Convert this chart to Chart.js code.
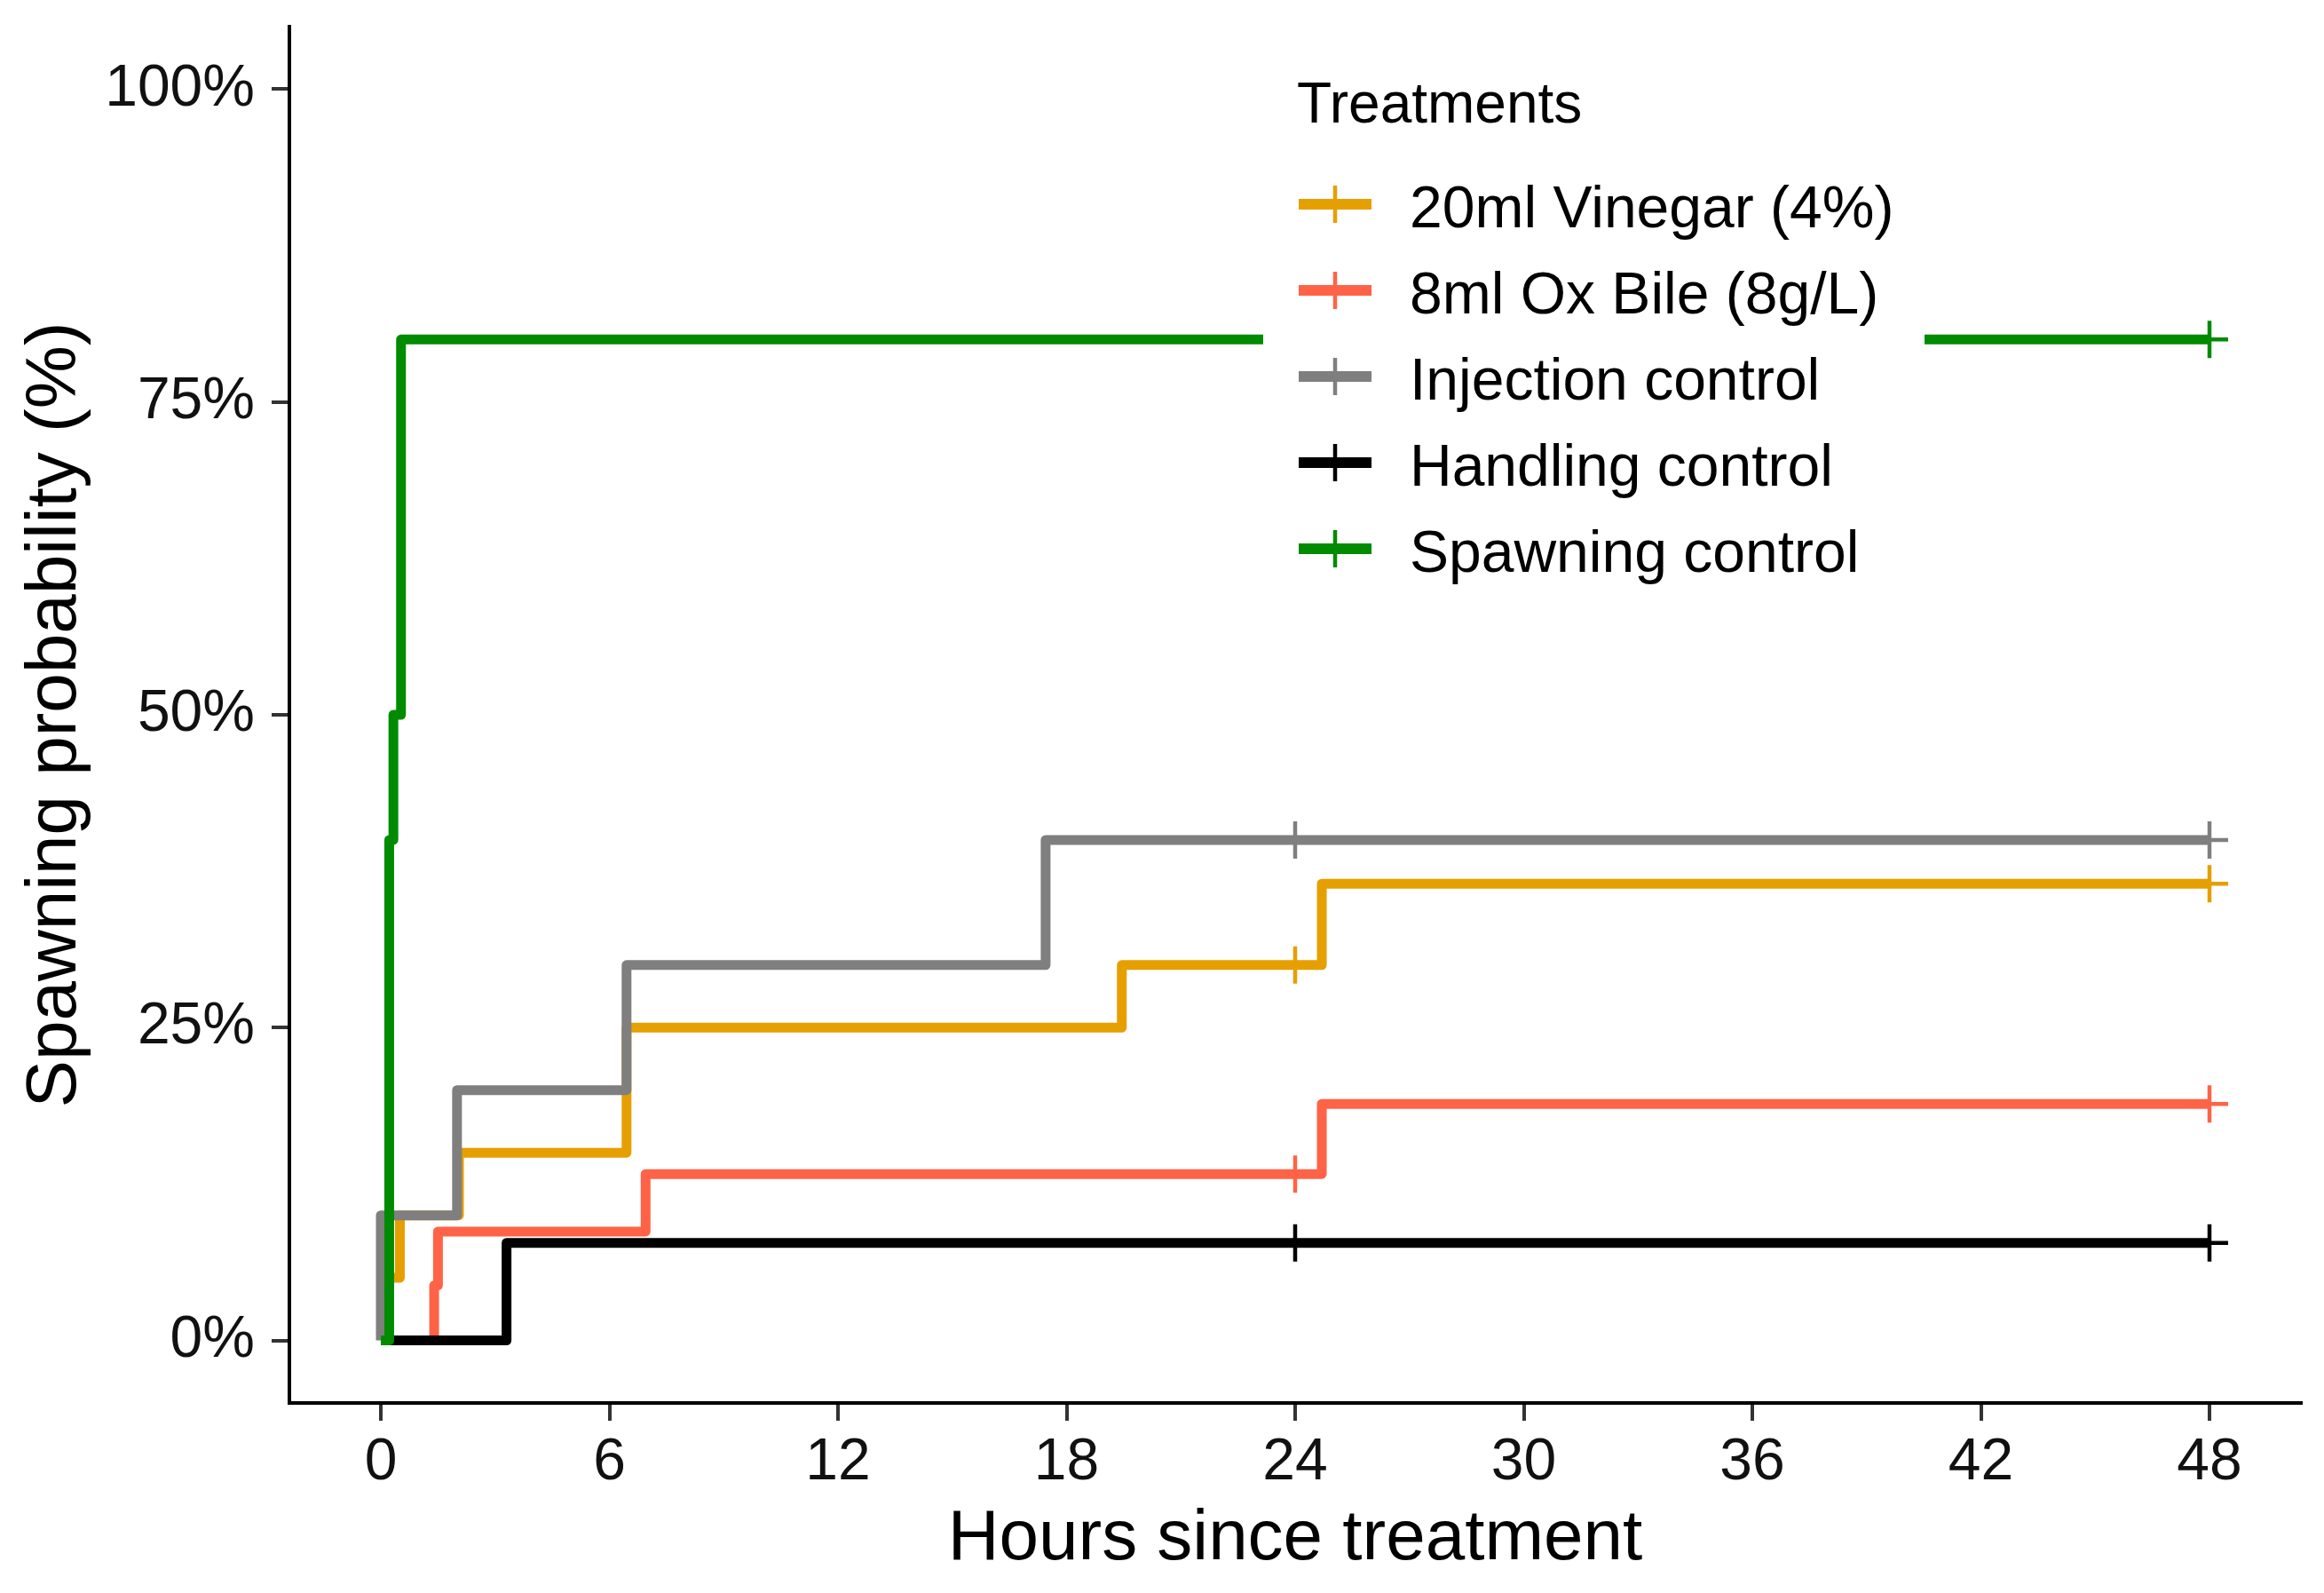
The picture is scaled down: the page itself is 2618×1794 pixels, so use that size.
<!DOCTYPE html>
<html>
<head>
<meta charset="utf-8">
<script src="https://cdn.jsdelivr.net/npm/chart.js@4.4.1/dist/chart.umd.min.js"></script>
<style>
  html, body { margin: 0; padding: 0; background: #fff; }
  #wrap { width: 2618px; height: 1794px; }
</style>
</head>
<body>
<div id="wrap"><canvas id="km" width="2618" height="1794"></canvas></div>
<script>
// series (legend order)
const seriesNames = ['20ml Vinegar (4%)', '8ml Ox Bile (8g/L)', 'Injection control', 'Handling control', 'Spawning control'];
const seriesColors = ['#E69F00', '#FF6347', '#7F7F7F', '#000000', '#008B00'];
const legendTitle = 'Treatments';

// step times (hours) and spawning probability after each step
const vinegarTimes = [0, 0.2, 0.5, 2.05, 6.45, 19.45, 24.7, 48];
const vinegarProb = [0, 0.05, 0.10, 0.15, 0.25, 0.30, 0.365, 0.365];
const oxBileTimes = [0, 1.4, 1.5, 6.95, 24.7, 48];
const oxBileProb = [0, 0.044, 0.087, 0.133, 0.189, 0.189];
const injectionTimes = [0, 0, 2.0, 6.45, 17.45, 48];
const injectionProb = [0, 0.10, 0.20, 0.30, 0.40, 0.40];
const handlingTimes = [0, 3.3, 48];
const handlingProb = [0, 0.078, 0.078];
const spawningTimes = [0, 0.22, 0.33, 0.53, 48];
const spawningProb = [0, 0.40, 0.50, 0.80, 0.80];

// censoring marks (hours)
const censorTimes = [[24, 48], [24, 48], [24, 48], [24, 48], [24, 48]];

const xTicks = [0, 6, 12, 18, 24, 30, 36, 42, 48];
const yTicks = [0, 0.25, 0.5, 0.75, 1];
const yTickLabels = ['0%', '25%', '50%', '75%', '100%'];

const allTimes = [vinegarTimes, oxBileTimes, injectionTimes, handlingTimes, spawningTimes];
const allProbs = [vinegarProb, oxBileProb, injectionProb, handlingProb, spawningProb];
// draw order: green on top, then black, gray, red, orange
const drawOrder = [10, 8, 6, 4, 2];

function valueAt(times, probs, t) {
    var v = probs[0];
    for (var i = 0; i < times.length; i++) {
        if (times[i] <= t) v = probs[i];
    }
    return v;
}

const datasets = [];
for (let i = 0; i < seriesNames.length; i++) {
    datasets.push({
        label: seriesNames[i],
        data: allTimes[i].map((t, k) => ({ x: t, y: allProbs[i][k] })),
        borderColor: seriesColors[i],
        borderWidth: 11,
        borderJoinStyle: 'round',
        stepped: 'before',
        pointRadius: 0,
        fill: false,
        order: drawOrder[i]
    });
    datasets.push({
        label: seriesNames[i] + ' censored',
        data: censorTimes[i].map(t => ({ x: t, y: valueAt(allTimes[i], allProbs[i], t) })),
        showLine: false,
        pointStyle: 'cross',
        pointRadius: 21,
        pointBorderWidth: 4.5,
        pointBorderColor: seriesColors[i],
        order: drawOrder[i] - 1
    });
}

const legendBox = {
    id: 'legendBox',
    afterDatasetsDraw(chart) {
        const c = chart.ctx;
        c.save();
        c.fillStyle = '#ffffff';
        c.fillRect(1423, 40, 745, 625);
        c.fillStyle = '#000';
        c.textBaseline = 'alphabetic';
        c.font = '64px "Liberation Sans", Arial, sans-serif';
        c.fillText(legendTitle, 1461, 138);
        c.font = '66px "Liberation Sans", Arial, sans-serif';
        for (let i = 0; i < seriesNames.length; i++) {
            const y = 230 + i * 97;
            c.strokeStyle = seriesColors[i];
            c.lineWidth = 12;
            c.beginPath(); c.moveTo(1463, y); c.lineTo(1545, y); c.stroke();
            c.lineWidth = 4.5;
            c.beginPath(); c.moveTo(1504, y - 21); c.lineTo(1504, y + 21); c.stroke();
            c.fillStyle = '#000';
            c.fillText(seriesNames[i], 1588, y + 26);
        }
        c.restore();
    }
};

const tickFont = { family: '"Liberation Sans", Arial, sans-serif', size: 66 };
const titleFont = { family: '"Liberation Sans", Arial, sans-serif', size: 80 };

function noPad(s) {
    s.paddingTop = 0; s.paddingBottom = 0; s.paddingLeft = 0; s.paddingRight = 0;
}

new Chart(document.getElementById('km').getContext('2d'), {
    type: 'line',
    data: { datasets: datasets },
    options: {
        responsive: false,
        animation: false,
        devicePixelRatio: 1,
        layout: { padding: { top: 30, right: 26, left: 0, bottom: 0 } },
        plugins: {
            legend: { display: false },
            tooltip: { enabled: false }
        },
        scales: {
            x: {
                type: 'linear',
                min: -2.4,
                max: 50.4,
                afterBuildTicks: s => { s.ticks = xTicks.map(v => ({ value: v })); },
                afterFit: s => { s.height = 214; noPad(s); },
                ticks: { font: tickFont, color: '#111', padding: 8, maxRotation: 0, autoSkip: false },
                grid: { drawOnChartArea: false, drawTicks: true, tickLength: 20, lineWidth: 4, color: '#333' },
                border: { display: true, color: '#000', width: 4 },
                title: { display: true, text: 'Hours since treatment', font: titleFont, color: '#000', padding: { top: 0, bottom: 12 } }
            },
            y: {
                type: 'linear',
                min: -0.05,
                max: 1.05,
                afterBuildTicks: s => { s.ticks = yTicks.map(v => ({ value: v })); },
                afterFit: s => { s.width = 326; noPad(s); },
                ticks: {
                    font: tickFont, color: '#111', padding: 19, autoSkip: false,
                    callback: function (value) {
                        const k = yTicks.indexOf(value);
                        return k >= 0 ? yTickLabels[k] : '';
                    }
                },
                grid: { drawOnChartArea: false, drawTicks: true, tickLength: 20, lineWidth: 4, color: '#333' },
                border: { display: true, color: '#000', width: 4 },
                title: { display: true, text: 'Spawning probability (%)', font: titleFont, color: '#000', padding: { top: 15, bottom: 0 } }
            }
        }
    },
    plugins: [legendBox]
});
</script>
</body>
</html>
